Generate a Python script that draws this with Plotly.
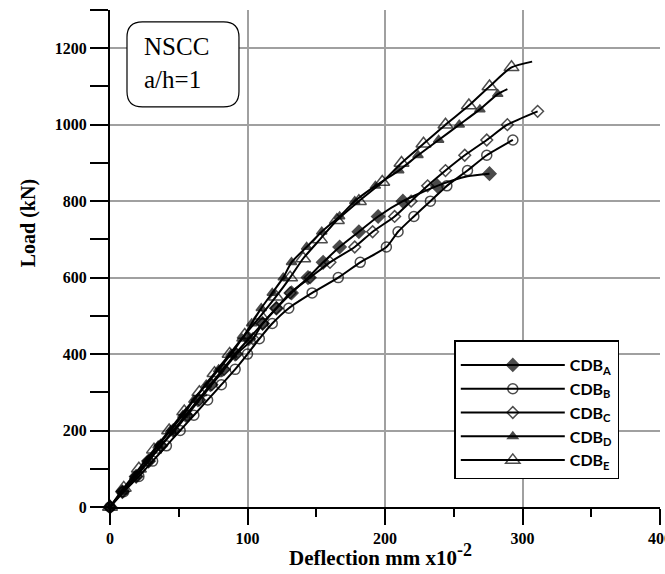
import plotly.graph_objects as go

# ---------------- data (deflection in mm x10^-2, load in kN) ----------------
A_load = [0, 40, 80, 120, 160, 200, 240, 280, 320, 360, 400, 440, 480, 520, 560, 600, 640, 680, 720, 760, 800, 840, 865, 872]
A_defl = [0, 9, 19, 28, 37, 46, 55, 64, 73, 82, 91, 101, 111, 121, 132, 144, 155, 167, 181, 195, 213, 238, 260, 276]
A_mark = [1] * 22 + [0, 1]

B_load = [0, 40, 80, 120, 160, 200, 240, 280, 320, 360, 400, 440, 480, 520, 560, 600, 640, 680, 720, 760, 800, 840, 880, 920, 960]
B_defl = [0, 10, 21, 31, 41, 51, 61, 71, 81, 91, 100, 108.6, 118, 130, 147, 166, 182, 201, 209.5, 221, 233, 245, 260, 274, 293]
B_mark = [1] * 25

C_load = [0, 40, 80, 120, 160, 200, 240, 280, 320, 360, 400, 440, 480, 520, 560, 600, 640, 680, 720, 760, 800, 840, 880, 920, 960, 1000, 1035]
C_defl = [0, 9, 19, 28, 37, 47, 56, 65, 74, 83, 92, 104, 111, 121, 131, 145.5, 160, 178, 191, 207, 219, 231, 244, 258, 274, 289, 311]
C_mark = [1] * 27

D_load = [0, 40, 80, 120, 160, 200, 240, 280, 320, 360, 400, 440, 480, 520, 560, 600, 640, 680, 720, 760, 800, 840, 880, 920, 960, 1000, 1040, 1080, 1093]
D_defl = [0, 9, 18, 27, 35, 44, 53, 61, 70, 79, 88, 96, 103, 110, 118, 126, 132, 143, 154, 167, 178, 193, 210, 224, 239, 254, 269, 282, 289]
D_mark = [1] * 28 + [0]

E_load = [0, 50, 100, 150, 200, 250, 300, 350, 400, 450, 500, 550, 600, 650, 700, 750, 800, 850, 900, 950, 1000, 1050, 1100, 1150, 1165]
E_defl = [0, 10, 21, 32, 43, 54, 65, 76, 87, 98, 109.6, 120.7, 131, 140.5, 152.7, 165, 181, 198, 212, 228, 244, 261, 276, 292, 307]
E_mark = [1] * 24 + [0]

names = ["<b>CDB<sub>A</sub></b>", "<b>CDB<sub>B</sub></b>", "<b>CDB<sub>C</sub></b>",
         "<b>CDB<sub>D</sub></b>", "<b>CDB<sub>E</sub></b>"]

x_ticks = [0, 100, 200, 300, 400]
y_ticks = [0, 200, 400, 600, 800, 1000, 1200]

series = [
    (A_defl, A_load, A_mark, "diamond", 10),
    (B_defl, B_load, B_mark, "circle-open", 10),
    (C_defl, C_load, C_mark, "diamond-open", 9),
    (D_defl, D_load, D_mark, "triangle-up", 9),
    (E_defl, E_load, E_mark, "triangle-up-open", 13),
]

fig = go.Figure()
for i, (xs, ys, mk, sym, sz) in enumerate(series):
    sizes = [sz if m else 0 for m in mk]
    fig.add_trace(go.Scatter(
        x=xs, y=ys, mode="lines+markers", name=names[i],
        line=dict(color="black", width=2, shape="spline", smoothing=0.6),
        marker=dict(symbol=sym, size=sizes, color="black", line=dict(color="black", width=1.5)),
        cliponaxis=False, legendgroup=str(i),
    ))

serif = "Liberation Serif"

fig.update_layout(
    width=665, height=574,
    margin=dict(l=110, r=5, t=10, b=67, autoexpand=False),
    paper_bgcolor="white", plot_bgcolor="white",
    showlegend=True,
    legend=dict(
        x=0.626, y=0.336, xanchor="left", yanchor="top",
        bordercolor="black", borderwidth=1.5, bgcolor="white",
        font=dict(family="Lato", size=16, color="black"),
        title=dict(text=" ", font=dict(size=5)),
        tracegroupgap=0, itemwidth=104,
    ),
    xaxis=dict(
        range=[0, 400], tickvals=x_ticks, ticktext=[f"<b>{v}</b>" for v in x_ticks],
        ticklabeloverflow="allow", automargin=False,
        showgrid=True, gridcolor="#a0a0a0", gridwidth=1.5,
        showline=True, linecolor="black", linewidth=2,
        ticks="outside", ticklen=16, tickwidth=2, tickcolor="black",
        minor=dict(dtick=50, ticks="outside", ticklen=8, tickwidth=2, tickcolor="black", showgrid=False),
        tickfont=dict(family=serif, size=16, color="black"),
        zeroline=False,
    ),
    yaxis=dict(
        range=[0, 1300], tickvals=y_ticks, ticktext=[f"<b>{v}</b>" for v in y_ticks],
        automargin=False,
        showgrid=True, gridcolor="#a0a0a0", gridwidth=1.5,
        showline=True, linecolor="black", linewidth=2,
        ticks="outside", ticklen=18, tickwidth=2, tickcolor="black",
        minor=dict(dtick=100, ticks="outside", ticklen=18, tickwidth=2, tickcolor="black", showgrid=False),
        tickfont=dict(family=serif, size=16, color="black"),
        zeroline=False,
    ),
)

# axis titles
fig.add_annotation(text="<b>Load (kN)</b>", xref="paper", yref="paper", x=-0.149, y=0.571,
                   textangle=-90, showarrow=False, xanchor="center", yanchor="middle",
                   font=dict(family=serif, size=20, color="black"))
fig.add_annotation(text="<b>Deflection mm x10<sup><span style='font-size:18px'>-2</span></sup></b>",
                   xref="paper", yref="paper", x=0.4927, y=-0.097,
                   showarrow=False, xanchor="center", yanchor="middle",
                   font=dict(family=serif, size=21, color="black"))

# rounded info box
x0, x1, y0, y1 = 0.0309, 0.2345, 0.805, 0.976
rx, ry = 0.028, 0.031
path = (f"M {x0+rx},{y1} L {x1-rx},{y1} Q {x1},{y1} {x1},{y1-ry} "
        f"L {x1},{y0+ry} Q {x1},{y0} {x1-rx},{y0} L {x0+rx},{y0} "
        f"Q {x0},{y0} {x0},{y0+ry} L {x0},{y1-ry} Q {x0},{y1} {x0+rx},{y1} Z")
fig.add_shape(type="path", path=path, xref="paper", yref="paper",
              line=dict(color="black", width=1.2), fillcolor="white", layer="above")
fig.add_annotation(text="NSCC<br>a/h=1", xref="paper", yref="paper", x=0.058, y=0.893,
                   xanchor="left", yanchor="middle", align="left", showarrow=False,
                   font=dict(family="Times New Roman, Liberation Serif, serif", size=25, color="black"))

fig.write_html("out.html")
